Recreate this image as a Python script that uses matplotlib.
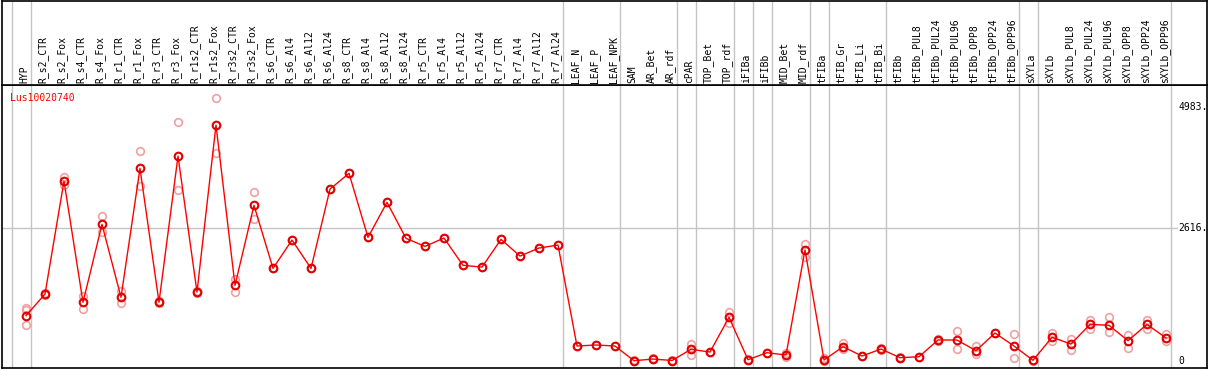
import matplotlib
matplotlib.use('Agg')
import matplotlib.pyplot as plt

# ---------------- data ----------------
gene = "Lus10020740"

samples = [
    "HYP",
    "R_s2_CTR", "R_s2_Fox", "R_s4_CTR", "R_s4_Fox", "R_r1_CTR", "R_r1_Fox",
    "R_r3_CTR", "R_r3_Fox", "R_r1s2_CTR", "R_r1s2_Fox", "R_r3s2_CTR", "R_r3s2_Fox",
    "R_s6_CTR", "R_s6_Al4", "R_s6_Al12", "R_s6_Al24",
    "R_s8_CTR", "R_s8_Al4", "R_s8_Al12", "R_s8_Al24",
    "R_r5_CTR", "R_r5_Al4", "R_r5_Al12", "R_r5_Al24",
    "R_r7_CTR", "R_r7_Al4", "R_r7_Al12", "R_r7_Al24",
    "LEAF_N", "LEAF_P", "LEAF_NPK",
    "SAM", "AR_Bet", "AR_rdf", "cPAR", "TOP_Bet", "TOP_rdf",
    "iFIBa", "iFIBb", "MID_Bet", "MID_rdf",
    "tFIBa", "tFIB_Gr", "tFIB_Li", "tFIB_Bi",
    "tFIBb", "tFIBb_PUL8", "tFIBb_PUL24", "tFIBb_PUL96",
    "tFIBb_OPP8", "tFIBb_OPP24", "tFIBb_OPP96",
    "sXYLa", "sXYLb", "sXYLb_PUL8", "sXYLb_PUL24", "sXYLb_PUL96",
    "sXYLb_OPP8", "sXYLb_OPP24", "sXYLb_OPP96",
]

means = [
    888,
    1313, 3528, 1151, 2679, 1249, 3777,
    1151, 4018, 1352, 4626, 1484, 3052,
    1817, 2372, 1817, 3371,
    3679, 2425, 3111, 2405,
    2248, 2411, 1876, 1842,
    2385, 2058, 2215, 2274,
    294, 314, 294,
    6, 39, 10, 229, 176, 857,
    25, 163, 118, 2176,
    20, 280, 98, 235,
    65, 84, 412, 412,
    202, 549, 294,
    14, 465, 333, 719, 700,
    398, 719, 451,
]

replicates = [
    [1049, 1000, 706],
    [1290, 1335], [3612, 3450], [1274, 1019], [2836, 2534], [1372, 1131], [4110, 3436],
    [1176, 1131], [4679, 3357], [1366, 1339], [5149, 4083], [1607, 1352], [3307, 2777],
    [1817], [2372], [1817], [3371],
    [3679], [2425], [3111], [2405],
    [2248], [2411], [1876], [1842],
    [2385], [2058], [2215], [2274],
    [294], [314], [294],
    [0, 12], [30, 50], [0, 15], [333, 123], [176], [960, 751],
    [20, 30], [163], [150, 84], [2293, 2044],
    [53, 0], [347, 229], [98], [220, 250],
    [55, 75], [84], [400, 425], [588, 229],
    [300, 137], [549], [523, 53],
    [0, 25], [555, 398], [425, 216], [804, 633], [862, 563],
    [510, 261], [804, 633], [529, 398],
]

# index of the last sample in each group (separator drawn after it)
group_ends = [-1, 0, 28, 31, 34, 35, 37, 38, 39, 41, 42, 45, 52, 53, 60]

scale_values = [0, 2616, 4983]
scale_labels = ["0", "2616.", "4983."]

# ---------------- figure ----------------
W, H = 1209, 370
fig = plt.figure(figsize=(W / 100, H / 100), dpi=100)


def frame(l, t, r, b):
    return [l / W, 1 - b / H, (r - l) / W, (b - t) / H]


ax = fig.add_axes(frame(2, 85, 1207, 368))
hx = fig.add_axes(frame(2, 0.5, 1207, 85))

x = list(range(len(samples)))
xlim = ((2 - 26) / 19, (1207 - 26) / 19)
ax.set_xlim(*xlim)
hx.set_xlim(*xlim)
ax.set_ylim(-137, 5412)
hx.set_ylim(0, 1)

for a in (ax, hx):
    a.set_xticks([])
    a.set_yticks([])
    for s in a.spines.values():
        s.set_color('black')
        s.set_linewidth(1.2)

grey = '#c4c4c4'
for g in group_ends:
    ax.axvline(g + 0.24, color=grey, lw=1, zorder=1)
    hx.axvline(g + 0.24, color=grey, lw=1, zorder=1)

ax.axhline(scale_values[1], xmin=0, xmax=0.975, color=grey, lw=1, zorder=1)

mono = 'DejaVu Sans Mono'

# replicates
for i, reps in enumerate(replicates):
    ax.plot([i] * len(reps), reps, 'o', mfc='none', mec='#f0a0a0', ms=5.5,
            mew=1.2, zorder=2)

ax.plot(x, means, '-', color='#ff0000', lw=1.0, zorder=3)
ax.plot(x, means, 'o', mfc='none', mec='#e00000', ms=5.5, mew=1.5, zorder=4)

# header labels
for i, s in enumerate(samples):
    hx.text(i - 0.1, 0.025, s, rotation=90, ha='center', va='bottom',
            fontfamily=mono, fontsize=7, color='black',
            transform=hx.get_xaxis_transform())

# scale labels
for v, lab in zip(scale_values, scale_labels):
    ax.text(0.9765, v, lab, transform=ax.get_yaxis_transform(), ha='left',
            va='center', fontfamily=mono, fontsize=7, color='black')

ax.text(0.0066, 0.955, gene, transform=ax.transAxes, ha='left', va='center',
        fontfamily=mono, fontsize=7, color='red')

fig.savefig('out.png', dpi=100)
